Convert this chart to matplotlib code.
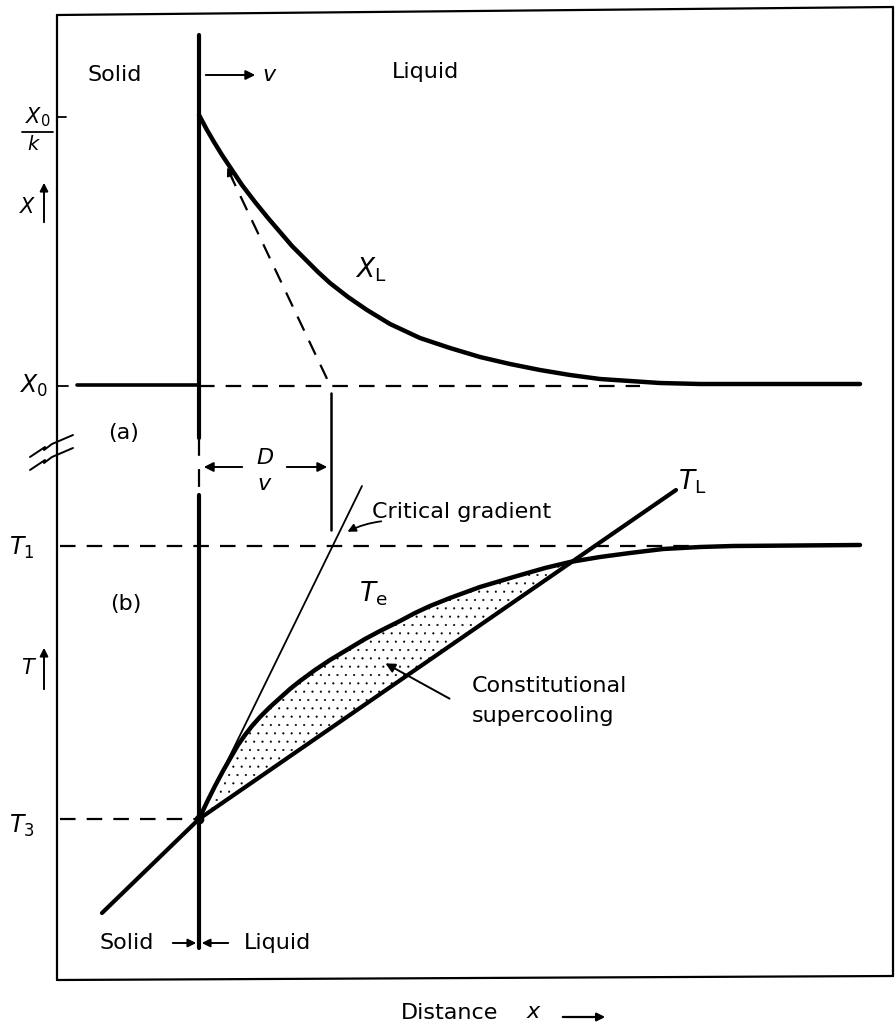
import numpy as np
import matplotlib
matplotlib.use("Agg")
import matplotlib.pyplot as plt

plt.rcParams['font.family'] = ['DejaVu Sans']
plt.rcParams['mathtext.fontset'] = 'dejavusans'
plt.rcParams['hatch.linewidth'] = 0.3

# drawing units: page positions (x to the right, y downwards)
interface_x = 199
dv_x = 331
x0k_level = 117
x0_level = 385
t1_level = 546
t3_level = 819

# (a) liquid composition X_L ahead of the interface
xl_x = [199, 207, 214, 222, 230, 242, 255, 268, 280, 292, 305, 318, 330, 348, 367,
        390, 420, 450, 480, 510, 540, 570, 600, 630, 660, 700, 860]
xl_y = [115, 130, 142, 155, 167, 185, 202, 218, 232, 246, 259, 272, 283, 297, 310,
        324, 338, 348, 357, 364, 370, 375, 379, 381, 383, 384, 384]

# tangent to X_L at the interface (dashed)
tan_x = [229, 329]
tan_y = [172, 383]

# (b) equilibrium liquidus temperature T_e
te_x = [199, 207, 215, 223, 231, 238, 245, 252, 260, 270, 280, 290, 300, 315, 330, 350,
        365, 380, 400, 415, 430, 450, 480, 517, 545, 570, 600, 630, 663, 700, 733, 860]
te_y = [819, 802, 786, 771, 757, 745, 735, 726, 717, 707, 698, 689, 681, 670, 660, 648,
        639, 631, 621, 613, 606, 598, 587, 576, 568, 562, 557, 553, 549, 547, 546, 545]

# actual temperature T_L (solid side, liquid side)
tl_x = [102, 199, 676]
tl_y = [913, 819, 490]

# critical gradient line
crit_x = [199, 362]
crit_y = [819, 486]

fig = plt.figure(figsize=(8.96, 10.26), dpi=100)
ax = fig.add_axes([0, 0, 1, 1])
ax.set_xlim(0, 896)
ax.set_ylim(1026, 0)
ax.axis('off')

k = dict(color='black', solid_capstyle='round')
dash = dict(color='black', lw=1.6, dashes=(7, 5))
fs = 16

# frame
ax.plot([57, 893], [15, 7], lw=1.6, **k)
ax.plot([57, 57], [15, 980], lw=1.6, **k)
ax.plot([893, 893], [7, 976], lw=1.6, **k)
ax.plot([57, 893], [980, 976], lw=1.6, **k)

# axis break marks
for dy in (0, 13):
    ax.plot([30, 45, 44, 52, 73], [457 + dy, 447 + dy, 450 + dy, 444 + dy, 435 + dy], lw=1.4, **k)

# interface
ax.plot([interface_x, interface_x], [35, 438], lw=3.0, **k)
ax.plot([interface_x, interface_x], [438, 495], lw=1.6, color='black', dashes=(8, 6))
ax.plot([interface_x, interface_x], [495, 948], lw=3.0, **k)

# ---- (a) composition ----
ax.plot([57, 66], [x0k_level, x0k_level], lw=1.3, **k)
ax.plot([57, 68], [x0_level + 1, x0_level + 1], lw=1.3, **k)
ax.plot([77, interface_x], [x0_level, x0_level], lw=2.6, **k)
ax.plot([interface_x, 640], [x0_level + 1, x0_level + 1], **dash)
ax.plot(xl_x, xl_y, lw=3.2, **k)
ax.plot(tan_x, tan_y, **dash)
ax.annotate('', xy=(tan_x[0] - 3, tan_y[0] - 7), xytext=(tan_x[0] + 5, tan_y[0] + 10),
            arrowprops=dict(arrowstyle='-|>', color='black', lw=1.2, mutation_scale=12))

# D/v dimension
ax.plot([dv_x, dv_x], [393, 530], lw=1.8, **k)
ax.annotate('', xy=(interface_x + 2, 467), xytext=(245, 467),
            arrowprops=dict(arrowstyle='-|>', color='black', lw=1.4, mutation_scale=14))
ax.annotate('', xy=(dv_x - 1, 467), xytext=(284, 467),
            arrowprops=dict(arrowstyle='-|>', color='black', lw=1.4, mutation_scale=14))
ax.text(265, 458, 'D', style='italic', fontsize=16, ha='center', va='center')
ax.text(264, 484, 'v', style='italic', fontsize=16, ha='center', va='center')

# ---- (b) temperature ----
ax.plot([60, 690], [t1_level, t1_level], **dash)
ax.plot([60, interface_x], [t3_level, t3_level], **dash)

te_x_arr = np.array(te_x)
te_y_arr = np.array(te_y)
tl_at_te = np.interp(te_x_arr, tl_x, tl_y)
mask = te_x_arr <= 570
ax.fill_between(te_x_arr[mask], te_y_arr[mask], tl_at_te[mask],
                facecolor='none', edgecolor='black', hatch='..', lw=0)

ax.plot(crit_x, crit_y, lw=1.3, **k)
ax.plot(te_x, te_y, lw=3.2, **k)
ax.plot(tl_x, tl_y, lw=3.0, **k)
ax.plot(interface_x, t3_level, 'o', color='black', ms=6)

# ---- labels ----
ax.text(115, 75, 'Solid', fontsize=fs, ha='center', va='center')
ax.annotate('', xy=(258, 75), xytext=(203, 75),
            arrowprops=dict(arrowstyle='-|>', color='black', lw=1.4, mutation_scale=14))
ax.text(269, 75, 'v', style='italic', fontsize=16, ha='center', va='center')
ax.text(425, 72, 'Liquid', fontsize=fs, ha='center', va='center')

ax.text(38, 117, '$X_0$', fontsize=15, ha='center', va='center')
ax.plot([22, 53], [132, 132], lw=1.3, **k)
ax.text(33, 145, 'k', style='italic', fontsize=14, ha='center', va='center')
ax.text(27, 207, 'X', style='italic', fontsize=15, ha='center', va='center')
ax.annotate('', xy=(44, 180), xytext=(44, 225),
            arrowprops=dict(arrowstyle='-|>', color='black', lw=1.4, mutation_scale=12))
ax.text(33, 386, '$X_0$', fontsize=17, ha='center', va='center')
ax.text(124, 433, '(a)', fontsize=fs, ha='center', va='center')
ax.text(371, 270, '$X_\\mathrm{L}$', fontsize=19, ha='center', va='center')

ax.text(22, 548, '$T_1$', fontsize=17, ha='center', va='center')
ax.text(126, 604, '(b)', fontsize=fs, ha='center', va='center')
ax.text(27, 668, 'T', style='italic', fontsize=15, ha='center', va='center')
ax.annotate('', xy=(44, 645), xytext=(44, 692),
            arrowprops=dict(arrowstyle='-|>', color='black', lw=1.4, mutation_scale=12))
ax.text(22, 826, '$T_3$', fontsize=17, ha='center', va='center')
ax.text(373, 594, '$T_\\mathrm{e}$', fontsize=19, ha='center', va='center')
ax.text(692, 482, '$T_\\mathrm{L}$', fontsize=19, ha='center', va='center')

ax.text(372, 512, 'Critical gradient', fontsize=fs, ha='left', va='center')
ax.annotate('', xy=(345, 533), xytext=(384, 521),
            arrowprops=dict(arrowstyle='-|>', color='black', lw=1.3, mutation_scale=12,
                            connectionstyle='arc3,rad=0.1'))

ax.text(472, 686, 'Constitutional', fontsize=fs, ha='left', va='center')
ax.text(472, 716, 'supercooling', fontsize=fs, ha='left', va='center')
ax.annotate('', xy=(383, 662), xytext=(452, 700),
            arrowprops=dict(arrowstyle='-|>', color='black', lw=1.4, mutation_scale=14))

ax.text(127, 943, 'Solid', fontsize=fs, ha='center', va='center')
ax.annotate('', xy=(interface_x, 943), xytext=(170, 943),
            arrowprops=dict(arrowstyle='-|>', color='black', lw=1.4, mutation_scale=12))
ax.annotate('', xy=(interface_x, 943), xytext=(231, 943),
            arrowprops=dict(arrowstyle='-|>', color='black', lw=1.4, mutation_scale=12))
ax.text(278, 943, 'Liquid', fontsize=fs, ha='center', va='center')

ax.text(450, 1013, 'Distance', fontsize=fs, ha='center', va='center')
ax.text(533, 1012, 'x', style='italic', fontsize=16, ha='center', va='center')
ax.annotate('', xy=(608, 1017), xytext=(560, 1017),
            arrowprops=dict(arrowstyle='-|>', color='black', lw=1.6, mutation_scale=12))

fig.savefig('out.png', dpi=100, facecolor='white')
